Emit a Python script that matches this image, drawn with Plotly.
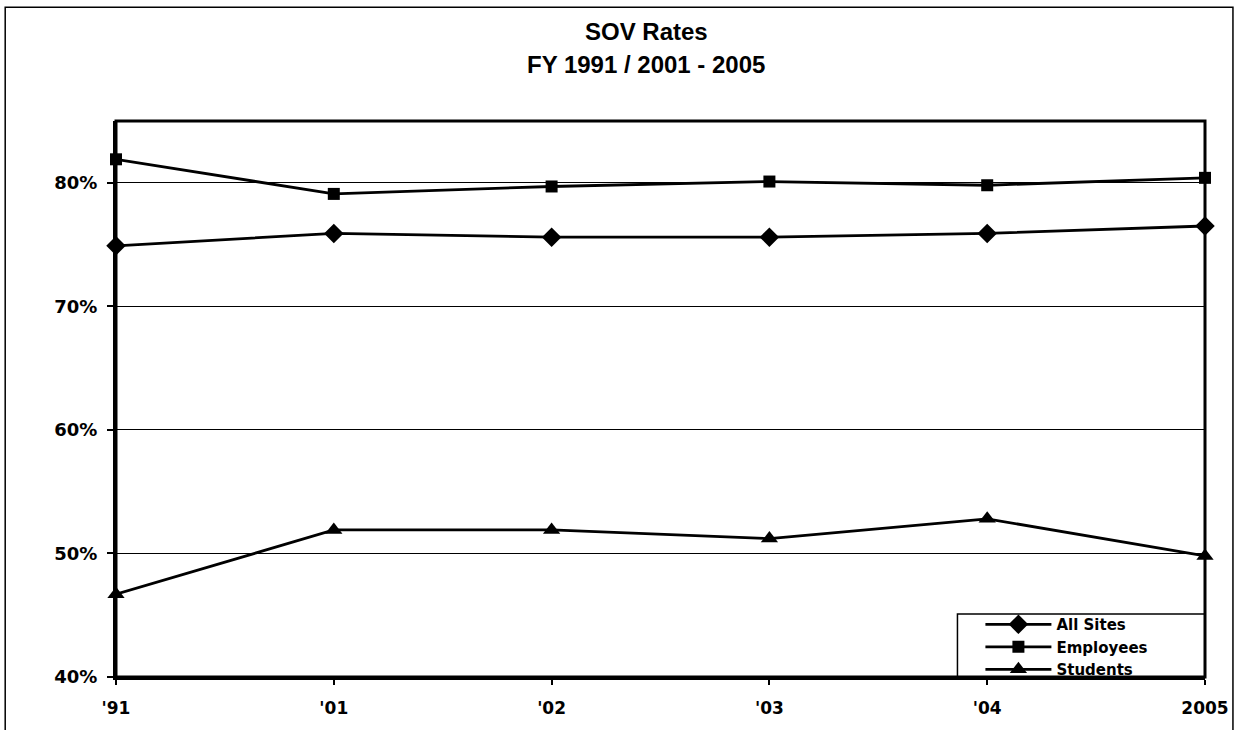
import plotly.graph_objects as go

years = ["'91", "'01", "'02", "'03", "'04", "2005"]
all_sites = [74.9, 75.9, 75.6, 75.6, 75.9, 76.5]
employees = [81.9, 79.1, 79.7, 80.1, 79.8, 80.4]
students = [46.7, 51.9, 51.9, 51.2, 52.8, 49.8]
series_names = ["All Sites", "Employees", "Students"]

W, H = 1241, 730
L, R, T, B = 116, 34, 121, 52
pw, ph = W - L - R, H - T - B

xs = list(range(len(years)))
line = dict(color="black", width=2.8)
title_font = "Liberation Sans, Arial, sans-serif"
label_font = "DejaVu Sans, Verdana, sans-serif"

fig = go.Figure()
for name, vals, sym, size in zip(series_names, [all_sites, employees, students],
                                 ["diamond", "square", "triangle-up"], [15, 12, 15]):
    fig.add_trace(go.Scatter(x=xs, y=vals, name=name, mode="lines+markers",
                             line=line, marker=dict(symbol=sym, size=size, color="black"),
                             cliponaxis=False))


def px(x):
    return (x - L) / pw


def py(y):
    return (H - B - y) / ph


# outer border of the chart area
fig.add_shape(type="rect", xref="paper", yref="paper",
              x0=px(5), x1=px(1235), y0=py(740), y1=py(7),
              line=dict(color="black", width=1.5), layer="below")
# legend box (drawn separately so it can be as wide as the original)
fig.add_shape(type="rect", xref="paper", yref="paper",
              x0=px(959), x1=1, y0=0, y1=py(615),
              line=dict(color="black", width=1.5), fillcolor="white", layer="below")
# plot frame
fig.add_shape(type="rect", xref="paper", yref="paper", x0=0, x1=1, y0=0, y1=1,
              line=dict(color="black", width=3))

for txt, ypos in [("SOV Rates", 31), ("FY 1991 / 2001 - 2005", 64)]:
    fig.add_annotation(text=f"<b>{txt}</b>", xref="paper", yref="paper",
                       x=px(647), y=py(ypos), xanchor="center", yanchor="middle",
                       showarrow=False,
                       font=dict(family=title_font, size=24, color="black"))

fig.update_layout(
    width=W, height=H,
    margin=dict(l=L, r=R, t=T, b=B),
    paper_bgcolor="white", plot_bgcolor="white",
    font=dict(family=label_font, size=17, color="black"),
    showlegend=True,
    legend=dict(x=px(982), y=py(648), xanchor="left", yanchor="middle",
                borderwidth=0, bgcolor="rgba(0,0,0,0)",
                font=dict(family=label_font, size=15, weight="bold"),
                tracegroupgap=0, itemwidth=66),
)
fig.update_xaxes(range=[0, len(years) - 1], tickvals=xs,
                 ticktext=[f"<b>{y}</b>" for y in years],
                 showgrid=False, zeroline=False, showline=True, linecolor="black",
                 linewidth=3, ticks="outside", ticklen=5, tickcolor="black", tickwidth=1.5,
                 ticklabelstandoff=9)
fig.update_yaxes(range=[40, 85], tickvals=[40, 50, 60, 70, 80],
                 ticktext=["<b>40%</b>", "<b>50%</b>", "<b>60%</b>", "<b>70%</b>", "<b>80%</b>"],
                 tickfont=dict(size=18),
                 showgrid=True, gridcolor="black", gridwidth=1, zeroline=False,
                 showline=True, linecolor="black", linewidth=3,
                 ticks="outside", ticklen=6, tickcolor="black", tickwidth=1.5,
                 ticklabelstandoff=6)

# the page body has a default 8px margin; drop it so the chart fills the window
fig.write_html("out.html", config={"displayModeBar": False},
               post_script="document.body.style.margin='0';")
